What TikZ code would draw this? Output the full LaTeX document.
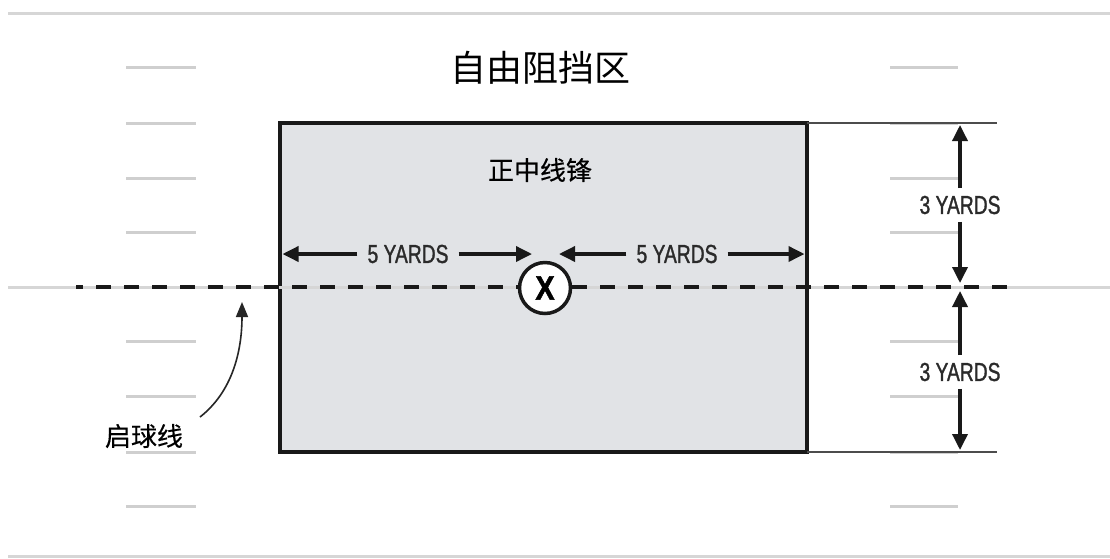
\documentclass[tikz,border=0pt]{standalone}
\usepackage{fontspec}
\setmainfont{Liberation Sans}
\newfontfamily\cjk{Noto Sans CJK SC}
\newfontfamily\cjkmid[FakeBold=0.4]{Noto Sans CJK SC}
\newfontfamily\cond[FakeStretch=0.74,FakeBold=1.2]{Liberation Sans}
\newfontfamily\condbold[FakeStretch=0.85,FakeBold=1.5]{Liberation Sans Bold}
\usetikzlibrary{arrows.meta}
\definecolor{fieldgray}{HTML}{D6D6D6}
\definecolor{tickgray}{HTML}{CFCFCF}
\definecolor{zonefill}{HTML}{E1E3E6}
\definecolor{inkgray}{HTML}{2A2A2A}
\begin{document}
\begin{tikzpicture}[x=1pt,y=-1pt,
  fieldline/.style={line width=3pt, draw=fieldgray},
  yardtick/.style={line width=3pt, draw=tickgray},
  dimarrow/.style={line width=3.5pt, draw=black!90, -{Triangle[length=16pt,width=15pt]}},
  yardlabel/.style={font=\cond\fontsize{26}{28}\selectfont, text=inkgray, inner xsep=10pt, inner ysep=7.5pt},
  cjklabel/.style={font=\cjkmid\fontsize{26}{30}\selectfont, text=black},
  scrimmage/.style={line width=4.5pt, draw=black!90, dash pattern=on 15pt off 13pt, dash phase=8pt},
  extline/.style={line width=1.5pt, draw=black!70}
]
\useasboundingbox (0,0) rectangle (1110,558);
\fill[white] (0,0) rectangle (1110,558);

% field lines
\draw[fieldline] (8,13) -- (1110,13);
\draw[fieldline] (8,556) -- (1110,556);
\foreach \yy in {67,123,178,232,341,396,452,506}{
  \draw[yardtick] (126,\yy) -- (196,\yy);
  \draw[yardtick] (890,\yy) -- (958,\yy);
}

% free blocking zone
\node[draw=black!90, line width=3.5pt, fill=zonefill, outer sep=0pt, inner sep=0pt,
      minimum width=527pt, minimum height=329pt] (zone) at (543.5,287.5) {};

% line of scrimmage
\draw[fieldline] (8,287) -- (1110,287);
\coordinate (losL) at (76,287);
\coordinate (losR) at (1013,287);
\draw[scrimmage] (losL) -- (losR);

% extension lines
\coordinate (extT) at (997,123);
\coordinate (extB) at (997,452);
\draw[extline] (zone.north east) -- (extT);
\draw[extline] (zone.south east) -- (extB);

% titles
\node[font=\cjk\fontsize{36}{40}\selectfont, text=black] (title) at (540,68) {自由阻挡区};
\node[cjklabel] (center) at (540,170) {正中线锋};

% center player
\node[circle, draw=black!90, line width=3.5pt, fill=white, minimum size=51pt, inner sep=0pt,
      font=\condbold\fontsize{34}{34}\selectfont] (player) at (545,288) {X};

% 5 yards
\node[yardlabel] (fiveL) at (408,254) {5 YARDS};
\node[yardlabel] (fiveR) at (677,254) {5 YARDS};
\coordinate (tipL) at (532,254);
\coordinate (tipR) at (559,254);
\draw[dimarrow] (fiveL.west) -- ([xshift=2.5pt]zone.west |- fiveL);
\draw[dimarrow] (fiveL.east) -- (tipL);
\draw[dimarrow] (fiveR.west) -- (tipR);
\draw[dimarrow] (fiveR.east) -- ([xshift=-2.5pt]zone.east |- fiveR);

% 3 yards
\node[yardlabel, inner xsep=4pt] (threeU) at (960,205) {3 YARDS};
\node[yardlabel, inner xsep=4pt] (threeD) at (960,372) {3 YARDS};
\coordinate (losTipU) at (960,283);
\coordinate (losTipD) at (960,291);
\draw[dimarrow] (threeU.north) -- ([yshift=-2pt]threeU |- zone.north);
\draw[dimarrow] (threeU.south) -- (losTipU);
\draw[dimarrow] (threeD.north) -- (losTipD);
\draw[dimarrow] (threeD.south) -- ([yshift=2pt]threeD |- zone.south);

% line of scrimmage label
\node[cjklabel] (losLabel) at (144,436) {启球线};
\coordinate (losStart) at (200,417);
\coordinate (losTip) at (242,302);
\draw[line width=1.6pt, draw=black!85, -{Triangle[length=15pt,width=12pt]}]
  (losStart) .. controls (232,392) and (242,352) .. (losTip);
\end{tikzpicture}
\end{document}
